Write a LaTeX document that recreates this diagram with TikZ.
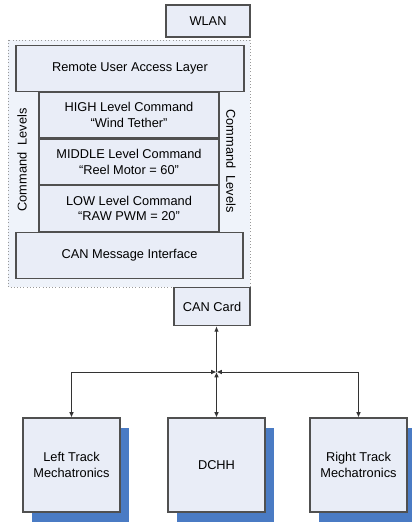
\documentclass[tikz,border=0pt]{standalone}
\usepackage{fontspec}
\setmainfont{Liberation Sans}
\usepackage{tikz}
\usetikzlibrary{positioning,arrows.meta,calc,shadows}
\definecolor{boxFill}{RGB}{233,237,247}
\definecolor{zoneFill}{RGB}{239,243,250}
\definecolor{lineGray}{RGB}{80,80,80}
\definecolor{shadowBlue}{RGB}{74,123,196}

\begin{document}
\begin{tikzpicture}[
        x=0.75pt, y=-0.75pt,
        box/.style={draw=lineGray, line width=0.8pt, fill=boxFill, align=center, inner sep=0pt,
            font=\fontsize{9.6}{11.4}\selectfont},
        layer/.style={box, minimum height=34.5pt},
        unit/.style={box, minimum width=72.75pt, minimum height=70.5pt,
            drop shadow={shadow xshift=7pt, shadow yshift=-7.5pt, fill=shadowBlue, opacity=1}},
        link/.style={line width=0.7pt, draw=black!80},
        arr/.style={link, -{Latex[length=4pt,width=3.5pt]}},
        darr/.style={link, {Latex[length=4pt,width=3.5pt]}-{Latex[length=4pt,width=3.5pt]}},
        side/.style={font=\fontsize{9.6}{11.4}\selectfont}
    ]
        \useasboundingbox (0,0) rectangle (411,524);

        % --- ONBOARD SOFTWARE ---
        \draw[dotted, draw=gray!80, fill=zoneFill] (8,40) rectangle (250,287);
        \node[box, minimum width=63pt, minimum height=24pt] (wlan) at (208,21) {WLAN};

        \node[layer, minimum width=171pt] (remote) at (130,68.5) {Remote User Access Layer};
        \node[layer, minimum width=135pt] (high) at (129,115) {HIGH Level Command\\``Wind Tether''};
        \node[layer, minimum width=135pt] (middle) at (129,162) {MIDDLE Level Command\\``Reel Motor = 60''};
        \node[layer, minimum width=135pt] (low) at (129,208.5) {LOW Level Command\\``RAW PWM = 20''};
        \node[layer, minimum width=170.25pt] (canmsg) at (129.5,255.5) {CAN Message Interface};

        % Beschriftung Ebenen
        \node[side, rotate=90] (lvlleft) at (22,160) {Command~~Levels};
        \node[side, rotate=-90] (lvlright) at (231,161) {Command~~Levels};

        % --- CAN BUS ---
        \node[box, minimum width=57pt, minimum height=29pt] (card) at (212,306.5) {CAN Card};
        \coordinate (junc) at (216.5,372);

        % Module
        \node[unit] (left) at (71.5,465) {Left Track\\Mechatronics};
        \node[unit] (dchh) at (216.5,465) {DCHH};
        \node[unit] (right) at (358.5,465) {Right Track\\Mechatronics};

        % Verbindungen
        \draw[darr] (left.north) |- (junc);
        \draw[darr] (right.north) |- (junc);
        \draw[darr] (dchh.north) -- (junc);
        \draw[arr] (junc) -- (junc |- card.south);
    \end{tikzpicture}
\end{document}
